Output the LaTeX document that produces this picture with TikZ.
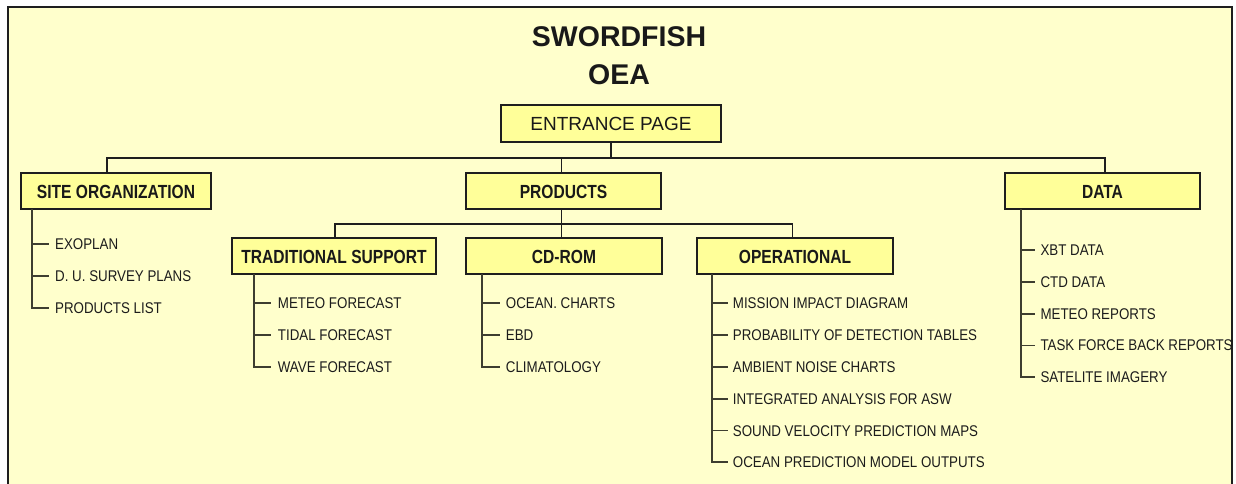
\documentclass[tikz,border=0pt]{standalone}
\usepackage{fontspec}
\setmainfont{Liberation Sans}
\newfontfamily\boxfont[FakeStretch=0.82]{Liberation Sans}
\newfontfamily\leaffont[FakeStretch=0.86]{Liberation Sans}
\definecolor{bgyellow}{HTML}{FFFFCC}
\definecolor{boxyellow}{HTML}{FFFF99}
\definecolor{framecol}{HTML}{1E1E1E}
\definecolor{leafcol}{HTML}{3E3E30}
\definecolor{textcol}{HTML}{1C1C1C}
\tikzset{
  titletext/.style={inner sep=0pt, font=\fontsize{28.5}{31}\selectfont\bfseries, text=black!90},
  entrybox/.style={draw=framecol, fill=boxyellow, line width=1.2pt, inner sep=0pt,
    text height=13.5pt, text depth=0pt, font=\fontsize{19}{22}\selectfont, text=black!90},
  catbox/.style={draw=framecol, fill=boxyellow, line width=1.2pt, inner sep=0pt,
    minimum height=36pt, text height=14pt, text depth=0pt,
    font=\boxfont\bfseries\fontsize{19}{22}\selectfont, text=black!90},
  leaf/.style={anchor=west, inner sep=0pt, text height=11pt, text depth=0pt,
    font=\leaffont\fontsize{15.5}{18}\selectfont, text=textcol},
  conn/.style={draw=framecol, line width=1.2pt},
  leafline/.style={draw=leafcol, line width=1.8pt}
}
\begin{document}
\begin{tikzpicture}[x=1pt,y=-1pt]
\useasboundingbox (0,0) rectangle (1236,484);
\fill[white] (0,0) rectangle (1236,484);
\fill[bgyellow] (8,7) rectangle (1232,484);
\draw[draw=framecol, line width=1.6pt] (8,484) -- (8,7) -- (1232,7) -- (1232,484);

% title
\node[titletext] (t1) at (619,37) {SWORDFISH};
\node[titletext] (t2) at (619,75) {OEA};

% boxes
\node[entrybox, minimum width=220pt, minimum height=37pt] (entrance) at (611,123.5) {ENTRANCE PAGE};
\node[catbox, minimum width=190pt] (site) at (116,191) {SITE ORGANIZATION};
\node[catbox, minimum width=195pt] (products) at (563.5,191) {PRODUCTS};
\node[catbox, minimum width=195pt] (data) at (1102.5,191) {DATA};
\node[catbox, minimum width=204pt] (trad) at (334,256) {TRADITIONAL SUPPORT};
\node[catbox, minimum width=196pt] (cdrom) at (564,256) {CD-ROM};
\node[catbox, minimum width=196pt] (oper) at (795,256) {OPERATIONAL};

% first-level connectors
\coordinate (busR) at (1105,158);
\draw[conn] (entrance.south) -- (entrance.south |- busR);
\draw[conn] ([xshift=-9pt]site.north) |- (busR) -- ([xshift=2.5pt]data.north);
\draw[conn] ([xshift=-1.8pt]products.north) -- ([xshift=-1.8pt]products.north |- busR);

% second-level connectors
\coordinate (bus2R) at (792.7,224);
\draw[conn] ([xshift=1pt]trad.north) |- (bus2R) -- (bus2R |- oper.north);
\draw[conn] ([xshift=-1.8pt]products.south) -- ([xshift=-1.8pt]products.south |- cdrom.north);

% site organization leaves
\node[leaf] (s1) at (55,244.3) {EXOPLAN};
\node[leaf] (s2) at (55,276.3) {D. U. SURVEY PLANS};
\node[leaf] (s3) at (55,308.3) {PRODUCTS LIST};
\coordinate (sv) at (32.3,209);
\draw[leafline] (sv) |- ([xshift=-6.5pt]s3.west);
\foreach \n in {s1,s2} \draw[leafline] (sv |- \n.west) -- ([xshift=-6.5pt]\n.west);

% traditional support leaves
\node[leaf] (tr1) at (277.7,303.3) {METEO FORECAST};
\node[leaf] (tr2) at (277.7,335.3) {TIDAL FORECAST};
\node[leaf] (tr3) at (277.7,367.3) {WAVE FORECAST};
\coordinate (tv) at (254,274);
\draw[leafline] (tv) |- ([xshift=-6.5pt]tr3.west);
\foreach \n in {tr1,tr2} \draw[leafline] (tv |- \n.west) -- ([xshift=-6.5pt]\n.west);

% cd-rom leaves
\node[leaf] (c1) at (505.7,303.3) {OCEAN. CHARTS};
\node[leaf] (c2) at (505.7,335.3) {EBD};
\node[leaf] (c3) at (505.7,367.3) {CLIMATOLOGY};
\coordinate (cv) at (482.3,274);
\draw[leafline] (cv) |- ([xshift=-5.5pt]c3.west);
\foreach \n in {c1,c2} \draw[leafline] (cv |- \n.west) -- ([xshift=-5.5pt]\n.west);

% operational leaves
\node[leaf] (o1) at (732.7,303.3) {MISSION IMPACT DIAGRAM};
\node[leaf] (o2) at (732.7,335.1) {PROBABILITY OF DETECTION TABLES};
\node[leaf] (o3) at (732.7,366.9) {AMBIENT NOISE CHARTS};
\node[leaf] (o4) at (732.7,398.7) {INTEGRATED ANALYSIS FOR ASW};
\node[leaf] (o5) at (732.7,430.5) {SOUND VELOCITY PREDICTION MAPS};
\node[leaf] (o6) at (732.7,462.3) {OCEAN PREDICTION MODEL OUTPUTS};
\coordinate (ov) at (712.3,274);
\draw[leafline] (ov) |- ([xshift=-4.5pt]o6.west);
\foreach \n in {o1,o2,o3,o4,o5} \draw[leafline] (ov |- \n.west) -- ([xshift=-4.5pt]\n.west);

% data leaves
\node[leaf] (d1) at (1040.3,250) {XBT DATA};
\node[leaf] (d2) at (1040.3,281.8) {CTD DATA};
\node[leaf] (d3) at (1040.3,313.6) {METEO REPORTS};
\node[leaf] (d4) at (1040.3,345.4) {TASK FORCE BACK REPORTS};
\node[leaf] (d5) at (1040.3,377.2) {SATELITE IMAGERY};
\coordinate (dv) at (1021,209);
\draw[leafline] (dv) |- ([xshift=-5.5pt]d5.west);
\foreach \n in {d1,d2,d3,d4} \draw[leafline] (dv |- \n.west) -- ([xshift=-5.5pt]\n.west);
\end{tikzpicture}
\end{document}
